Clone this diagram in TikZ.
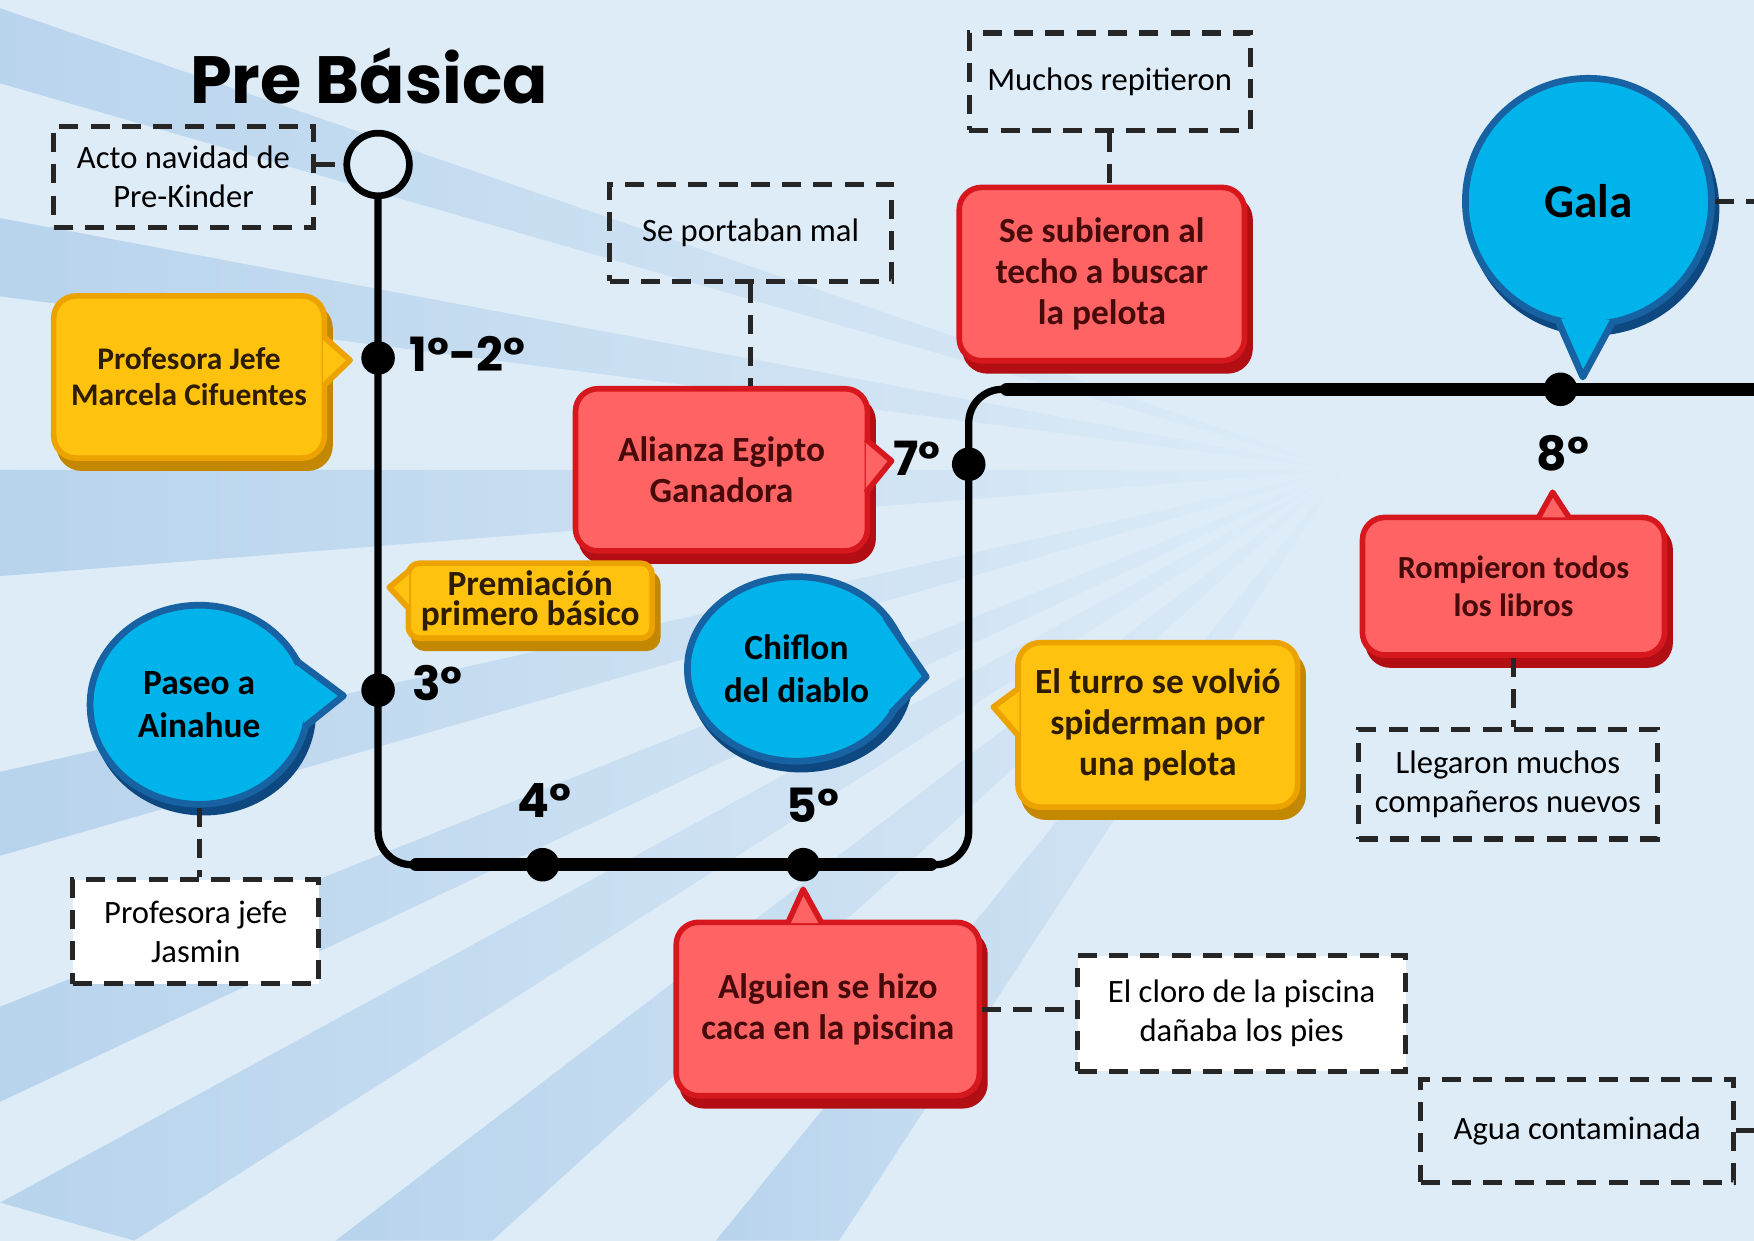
\documentclass[tikz,border=0pt]{standalone}
\usepackage{fontspec}
\setmainfont{Carlito}
\newfontfamily\titlefont{Poppins}
\usetikzlibrary{shapes.geometric,shadows,calc,fadings}

% colours
\definecolor{bgblue}{RGB}{222,236,248}
\definecolor{raydark}{RGB}{184,212,237}
\definecolor{redfill}{RGB}{255,99,99}
\definecolor{redline}{RGB}{214,24,30}
\definecolor{redshade}{RGB}{178,14,20}
\definecolor{yelfill}{RGB}{255,194,14}
\definecolor{yelline}{RGB}{236,163,0}
\definecolor{yelshade}{RGB}{196,136,0}
\definecolor{bluefill}{RGB}{0,180,235}
\definecolor{blueline}{RGB}{22,98,162}
\definecolor{blueshade}{RGB}{14,72,128}
\definecolor{inkred}{RGB}{70,10,10}
\definecolor{inkyel}{RGB}{45,28,0}

\tikzset{
  card/.style={rectangle, rounded corners=2mm, line width=0.5mm, align=center,
    inner sep=0pt, font=\bfseries\fontsize{9}{10.5}\selectfont},
  redbox/.style={card, fill=redfill, draw=redline, text=inkred,
    copy shadow={shadow xshift=0.5mm, shadow yshift=-0.9mm, fill=redshade, draw=redshade}},
  yellowbox/.style={card, fill=yelfill, draw=yelline, text=inkyel,
    copy shadow={shadow xshift=0.5mm, shadow yshift=-0.9mm, fill=yelshade, draw=yelshade}},
  bubble/.style={ellipse, fill=bluefill, draw=blueline, line width=0.6mm, inner sep=0pt,
    align=center, font=\bfseries\fontsize{9}{11}\selectfont,
    copy shadow={shadow xshift=0.4mm, shadow yshift=-0.7mm, fill=blueshade, draw=blueshade}},
  notebox/.style={rectangle, draw=black!85, line width=0.45mm, dash pattern=on 1.7mm off 1.1mm,
    inner sep=0pt, align=center, font=\fontsize{8.3}{10}\selectfont},
  link/.style={draw=black!85, line width=0.45mm, dash pattern=on 1.7mm off 1.1mm},
  rail/.style={line width=0.65mm, rounded corners=3mm, line cap=round},
  tdot/.style={circle, fill=black, inner sep=0pt, minimum size=3mm},
  degree/.style={font=\titlefont\bfseries\fontsize{12}{12}\selectfont, inner sep=0pt},
  raystripe/.style={fill=raydark, path fading=east},
  redtip/.style={fill=redfill, draw=redline, line width=0.5mm, line join=round},
  yellowtip/.style={fill=yelfill, draw=yelline, line width=0.5mm, line join=round},
  bluetip/.style={fill=bluefill, draw=blueline, line width=0.6mm, line join=round}
}

\begin{document}
\begin{tikzpicture}[x=0.1mm, y=-0.1mm]
	\useasboundingbox (0,0) rectangle (1568,1109);
	
	% Background and rays
	\fill[bgblue] (0,0) rectangle (1568,1109);
	\begin{scope}
		\clip (0,0) rectangle (1568,1109);
		\coordinate (hub) at (1200,420);
		\fill[raystripe] (hub) -- (-50,-10) -- (-50,60) -- cycle;
		\fill[raystripe] (hub) -- (0,195) -- (0,265) -- cycle;
		\fill[raystripe] (hub) -- (0,420) -- (0,515) -- cycle;
		\fill[raystripe] (hub) -- (0,690) -- (0,765) -- cycle;
		\fill[raystripe] (hub) -- (0,900) -- (0,985) -- cycle;
		\fill[raystripe] (hub) -- (0,1075) -- (120,1109) -- cycle;
		\fill[raystripe] (hub) -- (300,1109) -- (440,1109) -- cycle;
		\fill[raystripe] (hub) -- (640,1109) -- (750,1109) -- cycle;
	\end{scope}
	
	% Title
	\node[font=\titlefont\bfseries\fontsize{17}{20}\selectfont] (title) at (330,68) {Pre Básica};
	
	% Timeline
	\coordinate (t12) at (338,320);
	\coordinate (t3) at (338,617);
	\coordinate (t4) at (485,773);
	\coordinate (t5) at (718,773);
	\coordinate (t7) at (866,415);
	\coordinate (t8) at (1395,348);
	\coordinate (tend) at (1580,348);
	\node[circle, draw=black, line width=0.6mm, fill=bgblue, minimum size=5.6mm, inner sep=0pt] (start) at (338,147) {};
	\draw[rail] (start.south) -- (t12) -- (t3) |- (t4) -- (t5) -| (t7) |- (t8) -- (tend);
	\draw[rail, line width=1.2mm] (372,773) -- (832,773);
	\draw[rail, line width=1.2mm] (900,348) -- (tend);
	
	\node[tdot] (d12) at (t12) {};
	\node[tdot] (d3) at (t3) {};
	\node[tdot] (d4) at (t4) {};
	\node[tdot] (d5) at (t5) {};
	\node[tdot] (d7) at (t7) {};
	\node[tdot] (d8) at (t8) {};
	
	\node[degree] (l12) at (418,316) {1°-2°};
	\node[degree] (l3) at (391,611) {3°};
	\node[degree] (l4) at (487,716) {4°};
	\node[degree] (l5) at (727,720) {5°};
	\node[degree] (l7) at (820,410) {7°};
	\node[degree] (l8) at (1397,405) {8°};
	
	% Notes
	\node[notebox, minimum width=23.2mm, minimum height=9mm] (acto) at (164,158) {Acto navidad de\\Pre-Kinder};
	\node[notebox, minimum width=25.2mm, minimum height=8.7mm] (portaban) at (671,208) {Se portaban mal};
	\node[notebox, minimum width=25.1mm, minimum height=8.7mm] (muchos) at (992,73) {Muchos repitieron};
	\node[notebox, minimum width=26.7mm, minimum height=9.8mm] (llegaron) at (1348,701) {Llegaron muchos\\compañeros nuevos};
	\node[notebox, fill=white, minimum width=22mm, minimum height=9.3mm] (jasmin) at (175,833) {Profesora jefe\\Jasmin};
	\node[notebox, fill=white, minimum width=29.3mm, minimum height=10.3mm] (cloro) at (1110,906) {El cloro de la piscina\\dañaba los pies};
	\node[notebox, minimum width=28mm, minimum height=9.2mm] (agua) at (1410,1011) {Agua contaminada};
	
	% Events
	\node[yellowbox, minimum width=24.2mm, minimum height=14.5mm, font=\bfseries\fontsize{8}{9.2}\selectfont] (jefe) at (169,337) {Profesora Jefe\\Marcela Cifuentes};
	\node[redbox, minimum width=26.1mm, minimum height=14.5mm] (alianza) at (645,420) {Alianza Egipto\\Ganadora};
	\node[redbox, minimum width=25.5mm, minimum height=15.5mm] (subieron) at (985,245) {Se subieron al\\techo a buscar\\la pelota};
	\node[redbox, minimum width=27mm, minimum height=12.3mm, font=\bfseries\fontsize{8.2}{9.8}\selectfont] (rompieron) at (1353,524) {Rompieron todos\\los libros};
	\node[yellowbox, minimum width=21.8mm, minimum height=6.7mm, rounded corners=1mm, font=\bfseries\fontsize{9}{7.6}\selectfont] (premio) at (474,537) {Premiación\\primero básico};
	\node[yellowbox, minimum width=25mm, minimum height=14.7mm] (turro) at (1035,648) {El turro se volvió\\spiderman por\\una pelota};
	\node[redbox, minimum width=27.1mm, minimum height=15.5mm] (alguien) at (740,902) {Alguien se hizo\\caca en la piscina};
	\node[bubble, minimum width=19.5mm, minimum height=17.8mm] (paseo) at (178,630) {Paseo a\\Ainahue};
	\node[bubble, minimum width=19.5mm, minimum height=16.5mm] (chiflon) at (712,598) {Chiflon\\del diablo};
	\node[bubble, minimum width=22mm, minimum height=22mm, font=\bfseries\fontsize{12}{12}\selectfont] (gala) at (1420,180) {Gala};
	
	% Pointers
	\filldraw[yellowtip] ($(jefe.center)!0.97!(jefe.17)$) -- (313,322) -- ($(jefe.center)!0.97!(jefe.-4)$);
	\filldraw[redtip] ($(alianza.center)!0.97!(alianza.12)$) -- (797,412) -- ($(alianza.center)!0.97!(alianza.-9)$);
	\filldraw[yellowtip] ($(premio.center)!0.97!(premio.166)$) -- (348,525) -- ($(premio.center)!0.97!(premio.184)$);
	\filldraw[bluetip] ($(paseo.center)!0.96!(paseo.25)$) -- (307,622) -- ($(paseo.center)!0.96!(paseo.-12)$);
	\filldraw[bluetip] ($(chiflon.center)!0.96!(chiflon.30)$) -- (828,605) -- ($(chiflon.center)!0.96!(chiflon.-25)$);
	\filldraw[yellowtip] ($(turro.center)!0.97!(turro.165)$) -- (888,632) -- ($(turro.center)!0.97!(turro.185.5)$);
	\filldraw[redtip] ($(rompieron.center)!0.96!(rompieron.70)$) -- (1388,440) -- ($(rompieron.center)!0.96!(rompieron.51)$);
	\filldraw[redtip] ($(alguien.center)!0.96!(alguien.115)$) -- (718,795) -- ($(alguien.center)!0.96!(alguien.94)$);
	\filldraw[bluetip] ($(gala.center)!0.96!(gala.255)$) -- (1415,337) -- ($(gala.center)!0.96!(gala.282)$);
	
	% Dashed links
	\coordinate (galaout) at (1568,180);
	\coordinate (aguaout) at (1568,1011);
	\draw[link] (acto.east |- start) -- (start.west);
	\draw[link] (portaban.south) -- (portaban.south |- alianza.north);
	\draw[link] (muchos.south) -- (muchos.south |- subieron.north);
	\draw[link] (gala.east) -- (galaout);
	\draw[link] (rompieron.south) -- (rompieron.south |- llegaron.north);
	\draw[link] (paseo.south) -- (paseo.south |- jasmin.north);
	\draw[link] (alguien.east) -- (alguien.east -| cloro.west);
	\draw[link] (agua.east) -- (aguaout);
\end{tikzpicture}
\end{document}
